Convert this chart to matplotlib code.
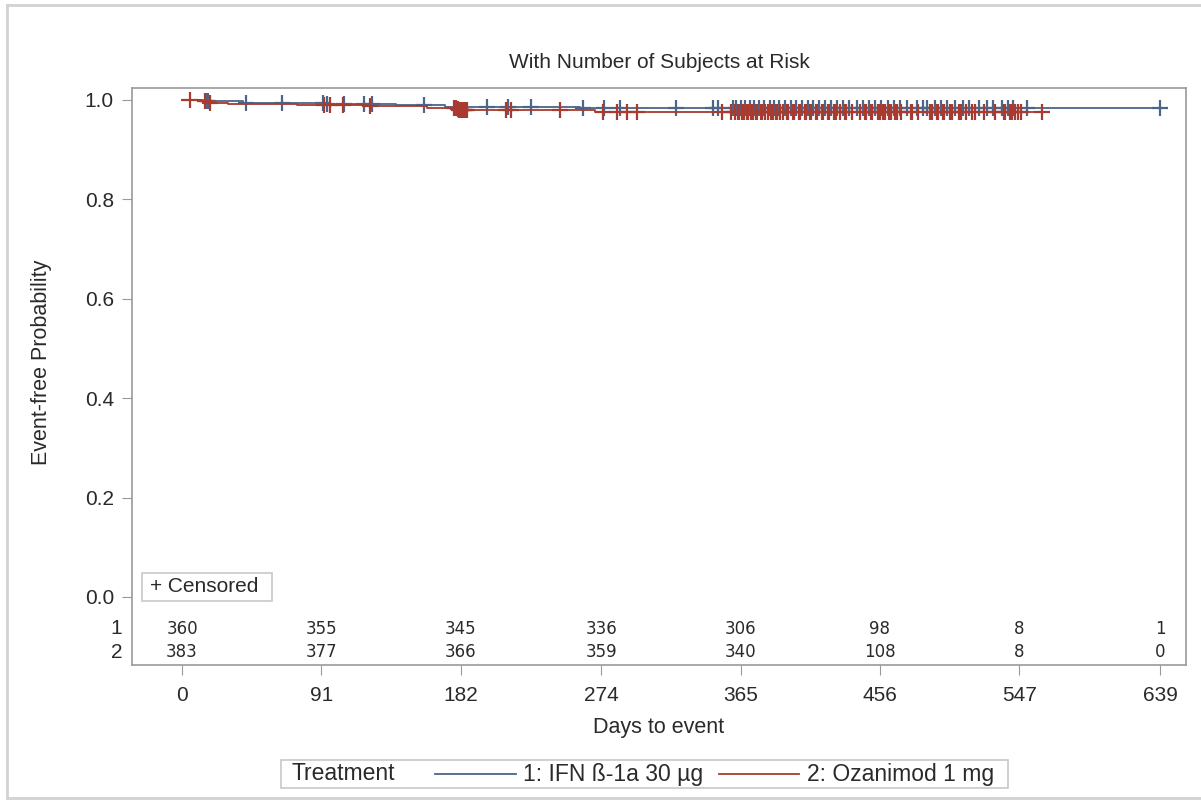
import numpy as np
import matplotlib
matplotlib.use('Agg')
import matplotlib.pyplot as plt
from matplotlib.lines import Line2D
from matplotlib.patches import Rectangle
from matplotlib.transforms import blended_transform_factory

plt.rcParams['font.family'] = ['Liberation Sans', 'DejaVu Sans']

# Kaplan-Meier steps (event day, survival after event)
ifn_event_t = [12, 40, 95, 140, 172, 260]
ifn_surv = [0.9972, 0.9944, 0.9916, 0.9888, 0.9860, 0.9832]
ifn_end = 639
oza_event_t = [14, 16, 30, 75, 120, 160, 180, 181, 270]
oza_surv = [0.9974, 0.9948, 0.9922, 0.9896, 0.9870, 0.9843, 0.9817, 0.9791, 0.9765]
oza_end = 562

# censoring days
ifn_censor = [16, 17, 42, 65, 92, 95, 106, 119, 124, 158, 199, 213, 228, 262, 276,
              286, 323, 347, 350, 360, 362, 365, 368, 371, 374, 377, 380, 384, 387,
              390, 394, 398, 401, 405, 409, 412, 416, 420, 424, 428, 432, 436, 441,
              445, 449, 453, 457, 461, 465, 469, 474, 480, 484, 487, 492, 496, 500,
              505, 510, 514, 521, 526, 530, 536, 540, 543, 552, 639]
oza_censor = [5, 15, 18, 93, 97, 105, 123, 178, 179, 180, 181, 182, 183, 184, 185,
              186, 212, 215, 247, 275, 284, 291, 297, 353, 359, 361, 363, 364, 366,
              367, 369, 370, 372, 373, 375, 376, 378, 379, 381, 383, 385, 386, 388,
              389, 391, 393, 395, 396, 399, 400, 403, 404, 407, 408, 410, 411, 414,
              415, 418, 419, 422, 423, 426, 427, 430, 433, 434, 438, 443, 446, 447,
              450, 451, 455, 456, 458, 459, 462, 463, 466, 467, 470, 476, 477, 481,
              489, 490, 493, 494, 497, 498, 502, 503, 508, 509, 512, 516, 518, 524,
              531, 537, 538, 541, 542, 544, 546, 548, 562]

# number at risk
risk_days = [0, 91, 182, 274, 365, 456, 547, 639]
ifn_risk = [360, 355, 345, 336, 306, 98, 8, 1]
oza_risk = [383, 377, 366, 359, 340, 108, 8, 0]

c_ifn = '#4b6688'
c_oza = '#a83a2f'
txt = '#2a2a2a'


def km_at(t, ev_t, surv):
    idx = np.searchsorted(ev_t, t, side='right')
    s = np.concatenate([[1.0], surv])
    return s[idx]


W, H = 1201, 800
fig = plt.figure(figsize=(W / 100, H / 100), dpi=100)
# outer frame (left, top, bottom edges)
for xs, ys in [([7, 7], [5, 798]), ([7, 1201], [5, 5]), ([7, 1201], [798, 798])]:
    fig.add_artist(Line2D([x / W for x in xs], [1 - y / H for y in ys],
                          transform=fig.transFigure, color='#d2d2d2', lw=2))

ax = fig.add_axes([132 / W, 1 - 665 / H, 1054 / W, 577 / H])

for ev_t, surv, end, cens, col in [(ifn_event_t, ifn_surv, ifn_end, ifn_censor, c_ifn),
                                    (oza_event_t, oza_surv, oza_end, oza_censor, c_oza)]:
    tt = np.concatenate([[0], ev_t, [end]])
    ss = np.concatenate([[1.0], surv, [surv[-1]]])
    ax.step(tt, ss, where='post', color=col, lw=1.3)
    cens = np.array(cens)
    ax.plot(cens, km_at(cens, ev_t, surv), ls='none', marker='+', ms=11,
            mew=1.6, color=col)

ax.set_xlim(-32.7, 656)
ax.set_ylim(-0.137, 1.024)
ax.set_xticks(risk_days)
ax.set_yticks([0.0, 0.2, 0.4, 0.6, 0.8, 1.0])
ax.set_yticklabels(['0.0', '0.2', '0.4', '0.6', '0.8', '1.0'])
ax.tick_params(direction='out', length=7, width=0.8, color='#999999',
               labelsize=15, labelcolor=txt)
ax.tick_params(axis='x', pad=8)
ax.tick_params(axis='y', pad=6)
for sp in ax.spines.values():
    sp.set_color('#9a9a9a')
    sp.set_linewidth(1.2)

# at-risk table inside the axes
trans = blended_transform_factory(ax.transAxes, ax.transData)
for yv, lab, vals in [(-0.064, '1', ifn_risk), (-0.111, '2', oza_risk)]:
    ax.text(-10 / 1054, yv, lab, transform=trans, ha='right', va='center',
            fontsize=15, color=txt)
    for d, v in zip(risk_days, vals):
        ax.text(d, yv, str(v), ha='center', va='center', fontsize=12,
                color=txt, family='DejaVu Sans')

# censored key
ax.add_patch(Rectangle((10 / 1054, 64 / 577), 130 / 1054, 28 / 577,
                       transform=ax.transAxes, fill=False, ec='#c8c8c8', lw=1.2))
ax.text(18 / 1054, 78 / 577, '+ Censored', transform=ax.transAxes,
        ha='left', va='center', fontsize=15, color=txt)

fig.text(659 / W, 1 - 63 / H, 'With Number of Subjects at Risk',
         ha='center', va='center', fontsize=15, color=txt)
fig.text(659 / W, 1 - 728 / H, 'Days to event', ha='center', va='center',
         fontsize=15.5, color=txt)
fig.text(42 / W, 1 - 362 / H, 'Event-free Probability', rotation=90,
         ha='center', va='center', fontsize=15.5, color=txt)

# bottom legend
fig.add_artist(Rectangle((281 / W, 1 - 788 / H), 727 / W, 28 / H,
                         transform=fig.transFigure, fill=False,
                         edgecolor='#c8c8c8', linewidth=1.2))
ly = 1 - 774 / H
fig.text(292 / W, ly, 'Treatment', ha='left', va='center', fontsize=16.5, color=txt)
fig.add_artist(Line2D([435 / W, 516 / W], [ly, ly], transform=fig.transFigure,
                      color=c_ifn, lw=1.3))
fig.text(523 / W, ly, '1: IFN ß-1a 30 µg', ha='left', va='center', fontsize=16.5,
         color=txt)
fig.add_artist(Line2D([719 / W, 799 / W], [ly, ly], transform=fig.transFigure,
                      color=c_oza, lw=1.3))
fig.text(807 / W, ly, '2: Ozanimod 1 mg', ha='left', va='center', fontsize=16.5,
         color=txt)

fig.savefig('out.png', dpi=100)
